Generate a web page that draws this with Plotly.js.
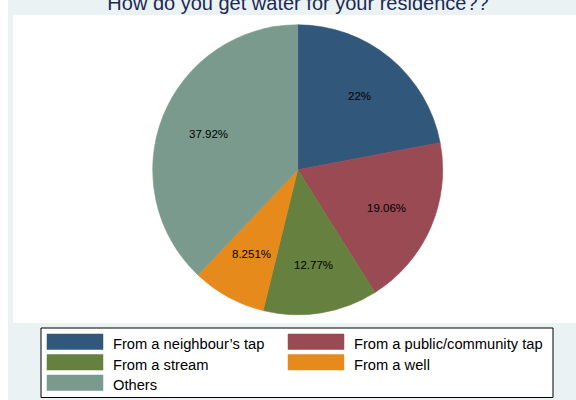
<!DOCTYPE html>
<html>
<head>
<meta charset="utf-8">
<script src="https://cdn.plot.ly/plotly-3.0.1.min.js"></script>
<style>html,body{margin:0;padding:0;background:#fff;}#chart{width:576px;height:400px;}</style>
</head>
<body>
<div id="chart"></div>
<script>
// ---- data ----
var categories = ["From a neighbour\u2019s tap", "From a public/community tap", "From a stream", "From a well", "Others"];
var shares = [22, 19.06, 12.77, 8.251, 37.92];
var shareLabels = ["22%", "19.06%", "12.77%", "8.251%", "37.92%"];
var sliceColors = ["#31577a", "#9a4a52", "#66813f", "#e68a1c", "#7a9a8e"];
var chartTitle = "How do you get water for your residence??";

var W = 576, H = 400;
function px(x) { return x / W; }
function py(y) { return 1 - y / H; }

// pie placement (pixels)
var cx = 297.7, cy = 169.8, R = 145;

var trace = {
  type: "pie",
  labels: categories,
  values: shares,
  textinfo: "none",
  sort: false,
  direction: "clockwise",
  rotation: 0,
  marker: {colors: sliceColors, line: {color: sliceColors, width: 0.6}},
  showlegend: false,
  hoverinfo: "skip",
  domain: {x: [px(cx - R), px(cx + R)], y: [py(cy + R), py(cy - R)]}
};

var shapes = [
  {type: "rect", xref: "paper", yref: "paper", x0: 0, x1: px(8), y0: 0, y1: 1,
   fillcolor: "#ffffff", line: {width: 0}, layer: "below"},
  {type: "rect", xref: "paper", yref: "paper", x0: px(13), x1: 1, y0: py(323), y1: py(15),
   fillcolor: "#ffffff", line: {width: 0}, layer: "below"},
  {type: "rect", xref: "paper", yref: "paper", x0: px(41), x1: px(553), y0: py(397.5), y1: py(328),
   fillcolor: "#ffffff", line: {color: "#000000", width: 1}, layer: "below"}
];
var annotations = [];

// slice labels, positioned along each slice's bisector from the data
var total = shares.reduce(function (a, b) { return a + b; }, 0);
var cum = 0;
for (var k = 0; k < shares.length; k++) {
  var mid = (cum + shares[k] / 2) / total * 2 * Math.PI;
  cum += shares[k];
  var lx = cx + R * 0.665 * Math.sin(mid);
  var ly = cy - R * 0.665 * Math.cos(mid);
  annotations.push({xref: "paper", yref: "paper", x: px(lx), y: py(ly),
    xanchor: "center", yanchor: "middle", showarrow: false, text: shareLabels[k],
    font: {family: "Liberation Sans, Arial, sans-serif", size: 11.5, color: "#000"}});
}

// custom legend built from the data arrays (2 columns)
var colX = [47, 288];
var textX = [111, 352];
var rowTop = [334, 354.5, 375];
for (var i = 0; i < categories.length; i++) {
  var c = i % 2, r = Math.floor(i / 2);
  shapes.push({type: "rect", xref: "paper", yref: "paper",
    x0: px(colX[c]), x1: px(colX[c] + 56), y0: py(rowTop[r] + 15.5), y1: py(rowTop[r]),
    fillcolor: sliceColors[i], line: {color: sliceColors[i], width: 0.5}});
  annotations.push({xref: "paper", yref: "paper", x: px(textX[c]), y: py(rowTop[r] + 10),
    xanchor: "left", yanchor: "middle", showarrow: false, text: categories[i],
    font: {family: "Liberation Sans, Arial, sans-serif", size: 14.7, color: "#000"}});
}

var layout = {
  width: W, height: H,
  margin: {l: 0, r: 0, t: 0, b: 0},
  paper_bgcolor: "#eaf2f3",
  plot_bgcolor: "#eaf2f3",
  title: {text: chartTitle, xref: "container", yref: "container", x: 298 / W, y: 1 - 10 / H,
          xanchor: "center", yanchor: "bottom",
          font: {family: "Liberation Sans, Arial, sans-serif", size: 20, color: "#1c2a55"}},
  shapes: shapes,
  annotations: annotations
};

Plotly.newPlot("chart", [trace], layout, {staticPlot: true, displayModeBar: false});
</script>
</body>
</html>
